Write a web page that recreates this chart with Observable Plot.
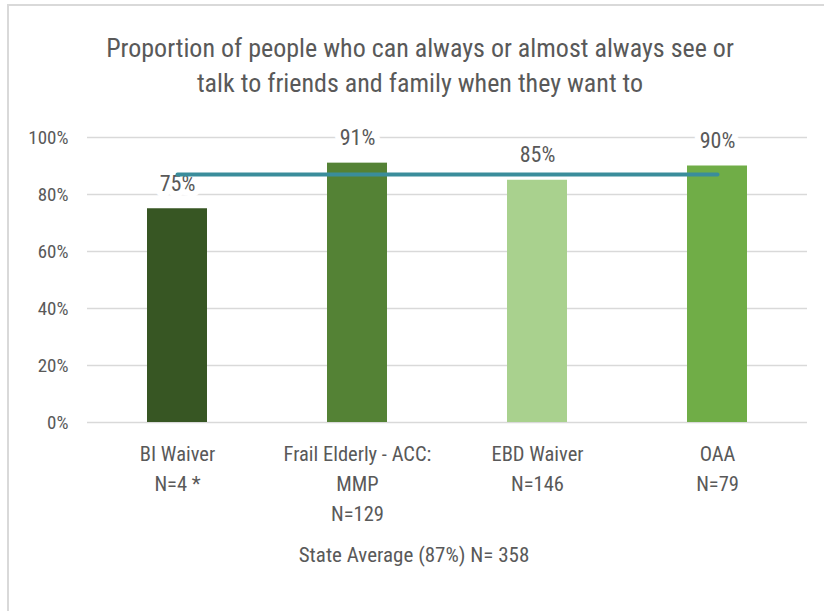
<!DOCTYPE html>
<html>
<head>
<meta charset="utf-8">
<script src="https://cdn.jsdelivr.net/npm/d3@7"></script>
<script src="https://cdn.jsdelivr.net/npm/@observablehq/plot@0.6"></script>
<style>
  html, body { margin: 0; padding: 0; background: #fff; }
  body { width: 824px; height: 611px; position: relative; overflow: hidden;
         font-family: "Liberation Sans Narrow", "Roboto Condensed", Roboto, sans-serif; }
  #frame { position: absolute; left: 7px; top: 4px; width: 830px; height: 620px;
           border-top: 2px solid #d9d9d9; border-left: 2px solid #d9d9d9; }
  #title { position: absolute; left: 0; width: 840px; top: 31px; text-align: center;
           font-size: 26px; line-height: 35px; color: #595959; }
  #chart { position: absolute; left: 0; top: 110px; }
  #caption { position: absolute; left: 0; width: 828px; top: 543px; text-align: center;
             font-size: 21px; color: #595959; }
</style>
</head>
<body>
<div id="frame"></div>
<div id="title">Proportion of people who can always or almost always see or<br>talk to friends and family when they want to</div>
<div id="chart"></div>
<div id="caption">State Average (87%) N= 358</div>
<script>
const categories = ["BI Waiver", "Frail Elderly - ACC:\nMMP", "EBD Waiver", "OAA"];
const nLabels = ["N=4 *", "N=129", "N=146", "N=79"];
const values = [75, 91, 85, 90];
const colors = ["#375623", "#548235", "#a9d18e", "#70ad47"];
const stateAvg = 87;
const yTicks = [0, 20, 40, 60, 80, 100];

const data = categories.map((c, i) => ({
  cat: c, label: c + "\n" + nLabels[i], value: values[i], color: colors[i], avg: stateAvg
}));
const labelOf = new Map(data.map(d => [d.cat, d.label]));

const plot = Plot.plot({
  width: 824,
  height: 420,
  marginLeft: 87,
  marginRight: 17,
  marginTop: 27,
  marginBottom: 108,
  style: { fontFamily: '"Liberation Sans Narrow", "Roboto Condensed", Roboto, sans-serif', background: "transparent" },
  x: { domain: categories, paddingInner: 0.667, paddingOuter: 0.333, label: null },
  y: { domain: [0, 100], label: null },
  marks: [
    Plot.gridY(yTicks, { stroke: "#d9d9d9", strokeOpacity: 1, strokeWidth: 1.3 }),
    Plot.axisY(yTicks, { tickSize: 0, tickPadding: 19, tickFormat: d => d + "%", fontSize: 19, fill: "#595959", label: null }),
    Plot.axisX({ tickSize: 0, tickPadding: 17, tickFormat: d => labelOf.get(d), fontSize: 20.5, fill: "#595959", lineHeight: 1.46, label: null }),
    Plot.barY(data, { x: "cat", y: "value", fill: "color" }),
    Plot.text(data, { x: "cat", y: "value", text: d => d.value + "%", dy: -25, fontSize: 22, fill: "#595959", stroke: "white", strokeWidth: 12, paintOrder: "stroke" }),
    Plot.lineY(data, { x: "cat", y: "avg", stroke: "#3a8d9b", strokeWidth: 4, strokeLinecap: "round" })
  ]
});
document.getElementById("chart").appendChild(plot);
</script>
</body>
</html>
